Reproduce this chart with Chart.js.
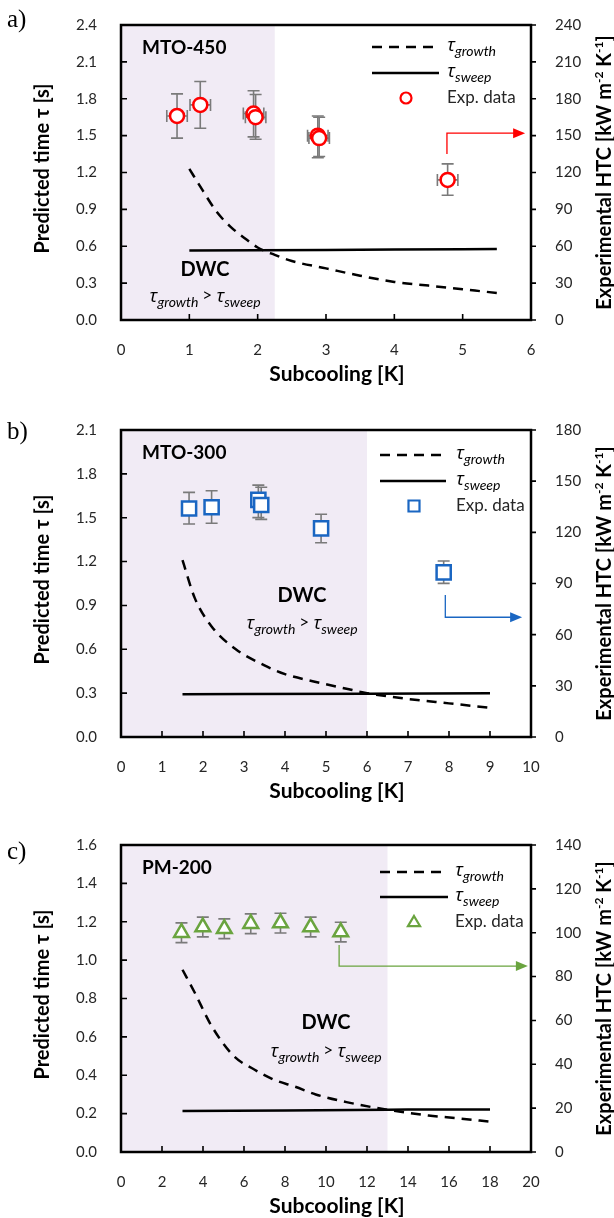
<!DOCTYPE html>
<html>
<head>
<meta charset="utf-8">
<script src="https://cdn.jsdelivr.net/npm/chart.js@4.4.1/dist/chart.umd.min.js"></script>
<style>
  html, body { margin: 0; padding: 0; background: #fff; }
  #wrap { position: relative; width: 614px; height: 1218px; }
  canvas { position: absolute; left: 0; }
</style>
</head>
<body>
<div id="wrap">
  <canvas id="chartA" width="614" height="400" style="top:0px"></canvas>
  <canvas id="chartB" width="614" height="412" style="top:400px"></canvas>
  <canvas id="chartC" width="614" height="406" style="top:812px"></canvas>
</div>
<script>
// ---------- a) MTO-450 ----------
const aExpX    = [0.82, 1.16, 1.94, 1.97, 2.88, 2.90, 4.78];
const aExpHtc  = [166, 175, 168, 165, 150, 148, 114];
const aExpLow  = [148, 156, 149, 147, 132, 133, 101.5];
const aExpHigh = [184, 194, 186.5, 183.5, 166, 165, 127];
const aGrowthX = [1.0, 1.2, 1.4, 1.6, 1.8, 2.0, 2.25, 2.5, 3.0, 3.5, 4.0, 4.5, 5.0, 5.5];
const aGrowthY = [1.23, 1.05, 0.88, 0.76, 0.67, 0.59, 0.53, 0.48, 0.42, 0.36, 0.31, 0.28, 0.25, 0.22];
const aSweepX  = [1.0, 2.0, 3.0, 4.0, 5.0, 5.5];
const aSweepY  = [0.565, 0.568, 0.570, 0.573, 0.576, 0.578];
const aArrowX  = [4.77, 4.77, 5.87];
const aArrowY  = [135, 152, 152];

// ---------- b) MTO-300 ----------
const bExpX    = [1.66, 2.21, 3.35, 3.42, 4.88, 7.87];
const bExpHtc  = [134, 134.7, 139, 136, 122.3, 96.5];
const bExpLow  = [124.9, 125.3, 128.6, 127.6, 113.9, 90.1];
const bExpHigh = [143.4, 144.4, 147.7, 146.4, 130.6, 103.2];
const bGrowthX = [1.5, 1.8, 2.2, 2.8, 3.5, 4.0, 4.7, 5.5, 6.0, 7.0, 8.0, 9.0];
const bGrowthY = [1.21, 0.95, 0.76, 0.60, 0.49, 0.43, 0.38, 0.33, 0.30, 0.26, 0.23, 0.20];
const bSweepX  = [1.5, 3.0, 6.0, 9.0];
const bSweepY  = [0.292, 0.294, 0.296, 0.299];
const bArrowX  = [7.91, 7.91, 9.71];
const bArrowY  = [83.2, 70.2, 70.2];

// ---------- c) PM-200 ----------
const cExpX    = [2.95, 3.99, 5.04, 6.33, 7.78, 9.25, 10.72];
const cExpHtc  = [100.0, 102.6, 101.8, 104.1, 104.4, 102.6, 100.3];
const cExpLow  = [95.5, 98.1, 97.3, 99.6, 99.9, 98.1, 95.8];
const cExpHigh = [104.5, 107.1, 106.3, 108.6, 108.9, 107.1, 104.8];
const cGrowthX = [3.0, 3.6, 4.4, 5.5, 6.5, 7.5, 8.5, 9.5, 11.0, 13.0, 15.0, 16.5, 18.0];
const cGrowthY = [0.95, 0.83, 0.66, 0.50, 0.43, 0.375, 0.34, 0.30, 0.26, 0.22, 0.19, 0.175, 0.158];
const cSweepX  = [3, 8, 13, 14, 18];
const cSweepY  = [0.214, 0.216, 0.220, 0.222, 0.222];
const cArrowX  = [10.64, 10.64, 19.7];
const cArrowY  = [94.4, 84.8, 84.8];

// axis ranges [min, max, step]
const aXRange = [0, 6, 1],  aYRange = [0, 2.4, 0.3], aY1Range = [0, 240, 30];
const bXRange = [0, 10, 1], bYRange = [0, 2.1, 0.3], bY1Range = [0, 180, 30];
const cXRange = [0, 20, 2], cYRange = [0, 1.6, 0.2], cY1Range = [0, 140, 20];

const panelLetters = ['a)', 'b)', 'c)'];
const panelNames   = ['MTO-450', 'MTO-300', 'PM-200'];
const shadeEnds    = [2.25, 6.0, 13.0];

const TICK_COLOR = '#262626';
const SHADE = '#f1ebf5';
const ERR_COLOR = '#7a7a7a';

Chart.defaults.font.family = 'Lato, "Open Sans", sans-serif';

function pts(xs, ys) {
  return xs.map((x, i) => ({ x: x, y: ys[i] }));
}

// draw a τ with an italic subscript, returns width
function drawTau(ctx, x, y, sub, big, small, measureOnly) {
  ctx.font = 'italic ' + big + 'px "Open Sans"';
  const w1 = ctx.measureText('τ').width;
  if (!measureOnly) ctx.fillText('τ', x, y);
  ctx.font = 'italic ' + small + 'px Lato';
  const w2 = ctx.measureText(sub).width;
  if (!measureOnly) ctx.fillText(sub, x + w1, y + small * 0.38);
  return w1 + w2;
}

function drawMarker(ctx, style, x, y, r) {
  ctx.beginPath();
  if (style === 'circle') {
    ctx.arc(x, y, r, 0, Math.PI * 2);
  } else if (style === 'rect') {
    ctx.rect(x - r, y - r, 2 * r, 2 * r);
  } else {
    ctx.moveTo(x, y - r * 1.1);
    ctx.lineTo(x + r * 1.1, y + r * 0.75);
    ctx.lineTo(x - r * 1.1, y + r * 0.75);
    ctx.closePath();
  }
  ctx.fillStyle = '#fff';
  ctx.fill();
  ctx.stroke();
}

function makePanelPlugin(p) {
  return {
    id: 'panel' + p.idx,
    beforeDraw(chart) {
      const { ctx, chartArea: ca, scales: { x } } = chart;
      ctx.save();
      ctx.fillStyle = SHADE;
      const xe = x.getPixelForValue(p.shadeEnd);
      ctx.fillRect(ca.left, ca.top, xe - ca.left, ca.bottom - ca.top);
      ctx.restore();
    },
    beforeDatasetsDraw(chart) {
      // error bars
      const { ctx, scales: { x, y1 } } = chart;
      ctx.save();
      ctx.strokeStyle = ERR_COLOR;
      ctx.lineWidth = 1.6;
      p.expX.forEach((xv, i) => {
        const px = x.getPixelForValue(xv);
        const lo = y1.getPixelForValue(p.expLow[i]);
        const hi = y1.getPixelForValue(p.expHigh[i]);
        ctx.beginPath();
        ctx.moveTo(px, lo); ctx.lineTo(px, hi);
        ctx.moveTo(px - 6, lo); ctx.lineTo(px + 6, lo);
        ctx.moveTo(px - 6, hi); ctx.lineTo(px + 6, hi);
        ctx.stroke();
        if (p.xErr) {
          const l = x.getPixelForValue(xv - p.xErr);
          const r = x.getPixelForValue(xv + p.xErr);
          const py = y1.getPixelForValue(p.expHtc[i]);
          ctx.beginPath();
          ctx.moveTo(l, py); ctx.lineTo(r, py);
          ctx.moveTo(l, py - 6); ctx.lineTo(l, py + 6);
          ctx.moveTo(r, py - 6); ctx.lineTo(r, py + 6);
          ctx.stroke();
        }
      });
      ctx.restore();
    },
    afterDatasetsDraw(chart) {
      const { ctx, chartArea: ca, scales: { x, y, y1 } } = chart;
      ctx.save();

      // arrow toward the right axis
      ctx.strokeStyle = p.color;
      ctx.fillStyle = p.color;
      ctx.lineWidth = 1.3;
      ctx.beginPath();
      p.arrowX.forEach((xv, i) => {
        const px = x.getPixelForValue(xv), py = y1.getPixelForValue(p.arrowY[i]);
        if (i === 0) ctx.moveTo(px, py); else ctx.lineTo(px, py);
      });
      ctx.stroke();
      const n = p.arrowX.length - 1;
      const ax = x.getPixelForValue(p.arrowX[n]), ay = y1.getPixelForValue(p.arrowY[n]);
      ctx.beginPath();
      ctx.moveTo(ax + 3, ay);
      ctx.lineTo(ax - 9, ay - 5);
      ctx.lineTo(ax - 9, ay + 5);
      ctx.closePath();
      ctx.fill();

      // frame
      ctx.strokeStyle = '#000';
      ctx.lineWidth = 2.5;
      ctx.strokeRect(ca.left, ca.top, ca.right - ca.left, ca.bottom - ca.top);

      // tick marks
      ctx.lineWidth = 1.6;
      ctx.beginPath();
      x.ticks.forEach(t => {
        const px = x.getPixelForValue(t.value);
        ctx.moveTo(px, ca.bottom); ctx.lineTo(px, ca.bottom - 6);
      });
      y.ticks.forEach(t => {
        const py = y.getPixelForValue(t.value);
        ctx.moveTo(ca.left, py); ctx.lineTo(ca.left + 6, py);
      });
      y1.ticks.forEach(t => {
        const py = y1.getPixelForValue(t.value);
        ctx.moveTo(ca.right, py); ctx.lineTo(ca.right + 5, py);
      });
      ctx.stroke();

      ctx.fillStyle = '#000';
      ctx.textAlign = 'left';

      // panel letter
      ctx.font = '25px "Liberation Serif"';
      ctx.textBaseline = 'middle';
      ctx.fillText(p.letter, 7, p.letterY);

      // material name
      ctx.font = 'bold 19px Lato';
      ctx.fillText(p.name, 142, ca.top + 23);

      // DWC annotation
      ctx.textAlign = 'center';
      ctx.font = 'bold 20px Lato';
      ctx.fillText('DWC', p.dwcX, p.dwcY);
      ctx.textAlign = 'left';
      ctx.textBaseline = 'alphabetic';
      const gap = 4;
      const w1 = drawTau(ctx, 0, 0, 'growth', 19, 14, true);
      ctx.font = '17px Lato';
      const wg = ctx.measureText('>').width;
      const w2 = drawTau(ctx, 0, 0, 'sweep', 19, 14, true);
      let tx = p.dwcX - (w1 + wg + w2 + 2 * gap) / 2;
      const ty = p.tauY;
      drawTau(ctx, tx, ty, 'growth', 19, 14);
      tx += w1 + gap;
      ctx.font = '17px Lato';
      ctx.fillText('>', tx, ty - 1);
      tx += wg + gap;
      drawTau(ctx, tx, ty, 'sweep', 19, 14);

      // legend
      const L = p.legend;
      ctx.strokeStyle = '#000';
      ctx.lineWidth = 2.5;
      ctx.setLineDash([10, 7]);
      ctx.beginPath();
      ctx.moveTo(L.x0, ca.top + L.r1); ctx.lineTo(L.x1, ca.top + L.r1);
      ctx.stroke();
      ctx.setLineDash([]);
      ctx.beginPath();
      ctx.moveTo(L.x0, ca.top + L.r2); ctx.lineTo(L.x1 + 2, ca.top + L.r2);
      ctx.stroke();
      ctx.strokeStyle = p.color;
      ctx.lineWidth = 2.2;
      drawMarker(ctx, p.marker, L.mx, ca.top + L.r3, 5.5);
      ctx.fillStyle = '#000';
      drawTau(ctx, L.tx, ca.top + L.r1 + 4, 'growth', 19, 14);
      drawTau(ctx, L.tx, ca.top + L.r2 + 4, 'sweep', 19, 14);
      ctx.font = '17px Lato';
      ctx.fillStyle = '#262626';
      ctx.textBaseline = 'middle';
      ctx.fillText('Exp. data', L.tx, ca.top + L.r3);

      // axis titles
      ctx.fillStyle = '#000';
      ctx.textAlign = 'center';
      ctx.font = 'bold 21px Lato, "Open Sans"';
      ctx.fillText('Subcooling [K]', 337, ca.bottom + 54);

      const midY = (ca.top + ca.bottom) / 2;
      ctx.save();
      ctx.translate(43, midY - 4);
      ctx.rotate(-Math.PI / 2);
      ctx.font = 'bold 20px Lato, "Open Sans"';
      ctx.fillText('Predicted time τ [s]', 0, 0);
      ctx.restore();

      // right title with superscripts
      const segs = [
        ['Experimental HTC [kW m', false], ['-2', true], [' K', false], ['-1', true], [']', false]
      ];
      let total = 0;
      segs.forEach(s => {
        ctx.font = s[1] ? 'bold 12px Lato' : 'bold 20px Lato';
        total += ctx.measureText(s[0]).width;
      });
      ctx.save();
      ctx.translate(604, midY);
      ctx.rotate(-Math.PI / 2);
      ctx.textAlign = 'left';
      ctx.textBaseline = 'alphabetic';
      let sx = -total / 2;
      segs.forEach(s => {
        ctx.font = s[1] ? 'bold 12px Lato' : 'bold 20px Lato';
        ctx.fillText(s[0], sx, s[1] ? -1 : 7);
        sx += ctx.measureText(s[0]).width;
      });
      ctx.restore();

      ctx.restore();
    }
  };
}

function buildPanel(canvasId, p) {
  return new Chart(document.getElementById(canvasId), {
    type: 'line',
    data: {
      datasets: [
        {
          label: 'Exp. data',
          data: pts(p.expX, p.expHtc),
          yAxisID: 'y1',
          showLine: false,
          pointStyle: p.marker,
          pointRadius: p.markerR,
          borderColor: p.color,
          backgroundColor: '#fff',
          pointBorderWidth: 2.5
        },
        {
          label: 'τgrowth',
          data: pts(p.growthX, p.growthY),
          yAxisID: 'y',
          borderColor: '#000',
          borderWidth: 2.5,
          borderDash: [10, 7],
          pointRadius: 0,
          cubicInterpolationMode: 'monotone'
        },
        {
          label: 'τsweep',
          data: pts(p.sweepX, p.sweepY),
          yAxisID: 'y',
          borderColor: '#000',
          borderWidth: 2.5,
          pointRadius: 0
        }
      ]
    },
    options: {
      responsive: false,
      animation: false,
      events: [],
      layout: { padding: { top: p.top, left: 0, right: 0, bottom: 0 } },
      plugins: { legend: { display: false }, tooltip: { enabled: false } },
      scales: {
        x: {
          type: 'linear',
          min: p.xr[0], max: p.xr[1],
          ticks: { stepSize: p.xr[2], padding: 13, color: TICK_COLOR, font: { size: 15 }, maxRotation: 0, autoSkip: false },
          grid: { display: false },
          border: { display: false },
          afterFit(s) { s.height = p.xh; }
        },
        y: {
          position: 'left',
          min: p.yr[0], max: p.yr[1],
          ticks: { stepSize: p.yr[2], padding: 16, color: TICK_COLOR, font: { size: 15 },
                   callback: v => Number(v).toFixed(1) },
          grid: { display: false },
          border: { display: false },
          afterFit(s) { s.width = 121; }
        },
        y1: {
          position: 'right',
          min: p.y1r[0], max: p.y1r[1],
          ticks: { stepSize: p.y1r[2], padding: 16, color: TICK_COLOR, font: { size: 15 } },
          grid: { display: false },
          border: { display: false },
          afterFit(s) { s.width = 83; }
        }
      }
    },
    plugins: [makePanelPlugin(p)]
  });
}

buildPanel('chartA', {
  idx: 0, letter: panelLetters[0], name: panelNames[0], shadeEnd: shadeEnds[0],
  expX: aExpX, expHtc: aExpHtc, expLow: aExpLow, expHigh: aExpHigh, xErr: 0.15,
  growthX: aGrowthX, growthY: aGrowthY, sweepX: aSweepX, sweepY: aSweepY,
  arrowX: aArrowX, arrowY: aArrowY,
  xr: aXRange, yr: aYRange, y1r: aY1Range,
  color: '#ff0000', marker: 'circle', markerR: 7,
  top: 15, xh: 80, letterY: 20,
  dwcX: 205, dwcY: 270, tauY: 302,
  legend: { x0: 372, x1: 437, r1: 22, r2: 48, r3: 73, mx: 406, tx: 447 }
});

buildPanel('chartB', {
  idx: 1, letter: panelLetters[1], name: panelNames[1], shadeEnd: shadeEnds[1],
  expX: bExpX, expHtc: bExpHtc, expLow: bExpLow, expHigh: bExpHigh, xErr: 0,
  growthX: bGrowthX, growthY: bGrowthY, sweepX: bSweepX, sweepY: bSweepY,
  arrowX: bArrowX, arrowY: bArrowY,
  xr: bXRange, yr: bYRange, y1r: bY1Range,
  color: '#1a66c2', marker: 'rect', markerR: 10,
  top: 30, xh: 75, letterY: 32,
  dwcX: 302, dwcY: 196, tauY: 229,
  legend: { x0: 380, x1: 444, r1: 25, r2: 51, r3: 76, mx: 414, tx: 456 }
});

buildPanel('chartC', {
  idx: 2, letter: panelLetters[2], name: panelNames[2], shadeEnd: shadeEnds[2],
  expX: cExpX, expHtc: cExpHtc, expLow: cExpLow, expHigh: cExpHigh, xErr: 0,
  growthX: cGrowthX, growthY: cGrowthY, sweepX: cSweepX, sweepY: cSweepY,
  arrowX: cArrowX, arrowY: cArrowY,
  xr: cXRange, yr: cYRange, y1r: cY1Range,
  color: '#6aa43f', marker: 'triangle', markerR: 8.5,
  top: 33, xh: 66, letterY: 40,
  dwcX: 326, dwcY: 211, tauY: 245,
  legend: { x0: 380, x1: 446, r1: 27, r2: 52, r3: 77, mx: 414, tx: 455 }
});
</script>
</body>
</html>
